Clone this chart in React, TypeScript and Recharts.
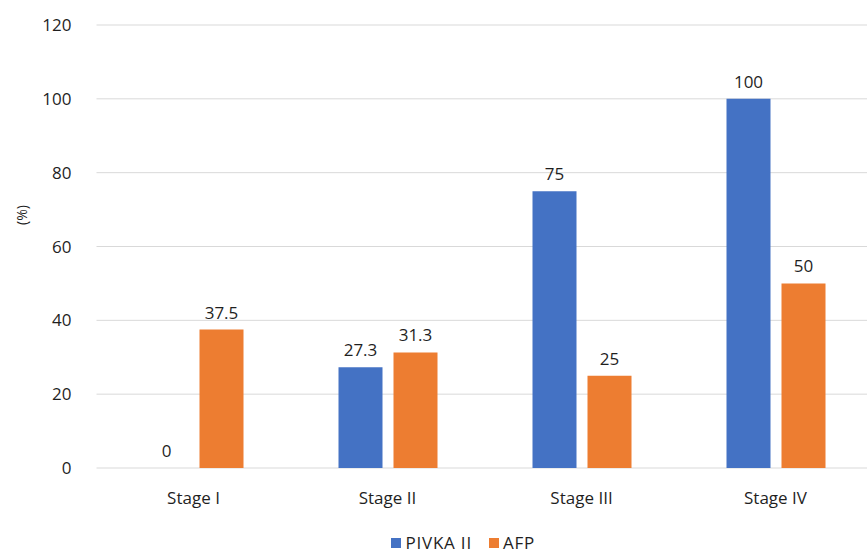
import { BarChart, Bar, XAxis, YAxis, CartesianGrid, Legend, LabelList } from 'recharts'

const stages = ['Stage I', 'Stage II', 'Stage III', 'Stage IV']
const pivka = [0, 27.3, 75, 100]
const afp = [37.5, 31.3, 25, 50]
const yTicks = [0, 20, 40, 60, 80, 100, 120]

const series = [
  { key: 'pivka', name: 'PIVKA II', color: '#4472c4' },
  { key: 'afp', name: 'AFP', color: '#ed7d31' },
]

const data = stages.map((stage, i) => ({ stage, pivka: pivka[i], afp: afp[i] }))

const FONT = '"Open Sans", "Noto Sans", sans-serif'
const TEXT = '#1f1f1f'

// value label above each bar
function BarValue(props: any) {
  const { x, y, width, value } = props
  if (value == null) return null
  return (
    <text
      x={Number(x) + Number(width) / 2}
      y={Number(y) - 11}
      textAnchor="middle"
      fill={TEXT}
      fontSize={17}
      fontFamily={FONT}
    >
      {value}
    </text>
  )
}

function AxisTitle() {
  return (
    <text
      x={27}
      y={215}
      transform="rotate(-90, 27, 215)"
      textAnchor="middle"
      fill={TEXT}
      fontSize={14}
      fontFamily={FONT}
    >
      (%)
    </text>
  )
}

function LegendBox() {
  return (
    <div
      style={{
        height: 28,
        paddingTop: 7,
        paddingLeft: 54,
        boxSizing: 'border-box',
        display: 'flex',
        justifyContent: 'center',
        gap: 17,
      }}
    >
      {series.map((s) => (
        <div
          key={s.key}
          style={{
            display: 'flex',
            alignItems: 'center',
            fontSize: 17,
            lineHeight: '18px',
            letterSpacing: 0.8,
            color: TEXT,
            fontFamily: FONT,
          }}
        >
          <span style={{ width: 10, height: 10, background: s.color, display: 'inline-block', marginRight: 4 }} />
          {s.name}
        </div>
      ))}
    </div>
  )
}

export default function App() {
  return (
    <div
      style={{
        position: 'absolute',
        left: 0,
        top: 0,
        width: 867,
        height: 553,
        overflow: 'hidden',
        background: '#fff',
        fontFamily: FONT,
      }}
    >
      <BarChart
        width={880}
        height={553}
        data={data}
        margin={{ top: 25, right: 7.5, bottom: 0, left: 0 }}
        barSize={44}
        barGap={11}
      >
        <CartesianGrid vertical={false} stroke="#d9d9d9" />
        <XAxis
          dataKey="stage"
          axisLine={false}
          tickLine={false}
          height={57}
          tickMargin={18}
          tick={{ fontSize: 17, fill: TEXT, fontFamily: FONT }}
        />
        <YAxis
          width={96.5}
          domain={[0, 120]}
          ticks={yTicks}
          axisLine={false}
          tickLine={false}
          tickMargin={19}
          tick={{ fontSize: 17, fill: TEXT, fontFamily: FONT }}
          label={<AxisTitle />}
        />
        <Legend verticalAlign="bottom" content={<LegendBox />} />
        {series.map((s) => (
          <Bar
            key={s.key}
            dataKey={s.key}
            name={s.name}
            fill={s.color}
            minPointSize={0.01}
            isAnimationActive={false}
          >
            <LabelList dataKey={s.key} content={<BarValue />} />
          </Bar>
        ))}
      </BarChart>
    </div>
  )
}
